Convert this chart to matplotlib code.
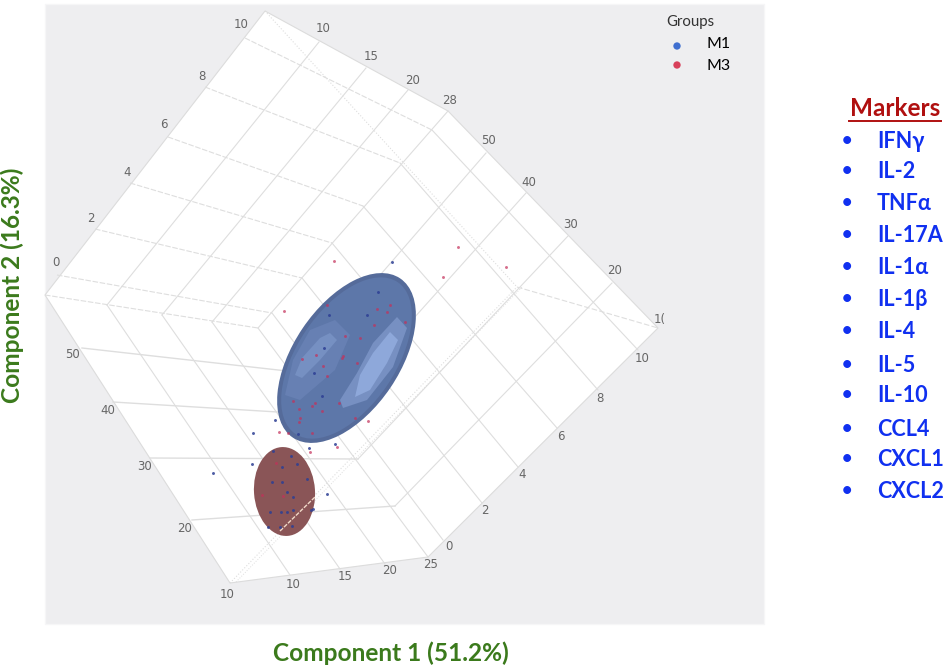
import matplotlib
matplotlib.use('Agg')
import matplotlib.pyplot as plt
from matplotlib.patches import Polygon, Ellipse, Rectangle

m1_x = [392, 329, 367, 378, 324, 314, 322, 275, 253, 252, 309, 335, 291, 297, 282, 282, 272, 307,
        287, 293, 327, 270, 281, 287, 293, 313, 311, 268, 292, 280, 213, 298, 273]
m1_y = [262, 315, 315, 292, 348, 373, 396, 420, 433, 464, 448, 444, 456, 464, 467, 482, 482, 479,
        492, 497, 494, 512, 512, 512, 510, 509, 510, 527, 526, 527, 473, 434, 451]
m3_x = [334, 284, 327, 405, 390, 387, 377, 374, 345, 360, 316, 343, 342, 302, 323, 357, 327, 293,
        299, 312, 322, 315, 339, 300, 299, 279, 288, 312, 355, 368, 337, 310, 276, 262, 283, 458,
        443, 506]
m3_y = [261, 311, 305, 322, 305, 312, 309, 325, 336, 338, 355, 356, 358, 359, 366, 363, 376, 401,
        409, 406, 411, 403, 403, 418, 422, 432, 433, 433, 418, 421, 447, 452, 463, 495, 496, 247,
        277, 267]

markers = ['IFNγ', 'IL-2', 'TNFα', 'IL-17A', 'IL-1α', 'IL-1β', 'IL-4', 'IL-5', 'IL-10', 'CCL4',
           'CXCL1', 'CXCL2']
marker_y = [142, 172, 204, 235, 268, 300, 332, 365, 396, 429, 460, 492]

# cube outline
T, U, R, BR, B, L = (265, 11), (448, 111), (658, 328), (428, 557), (230, 583), (45, 295)
C, D = (258, 328), (517, 287)

# tick positions on the box edges
left_y = [(57, 275), (95, 229), (130, 183), (168, 137), (205, 87), (245, 38)]
fold_y = [(272, 313), (302, 278), (332, 243), (363, 206), (400, 163), (432, 130)]
right_y = [(443, 540), (482, 503), (518, 467), (557, 428), (598, 390), (638, 350)]
top_x = [(319, 42), (366, 68), (408, 90)]
back_x = [(107, 305), (162, 315), (212, 322)]
bottom_x = [(290, 575), (340, 569), (385, 564)]
left_z = [(82, 348), (113, 402), (150, 458), (192, 520)]
fold_z = [(296, 372), (327, 415), (358, 459), (395, 506)]
top_z = [(486, 153), (526, 193), (568, 236), (612, 283)]

tick_labels = [('10', 241, 25), ('8', 202, 76), ('6', 164, 125), ('4', 127, 172), ('2', 91, 218),
               ('0', 56, 263), ('10', 323, 29), ('15', 371, 56), ('20', 413, 80), ('28', 450, 101),
               ('50', 489, 140), ('40', 529, 182), ('30', 571, 225), ('20', 615, 271), ('1(', 660, 319),
               ('10', 642, 358), ('8', 600, 398), ('6', 561, 437), ('4', 522, 475), ('2', 485, 511),
               ('0', 449, 547), ('25', 431, 565), ('50', 72, 355), ('40', 108, 410), ('30', 145, 467),
               ('20', 185, 529), ('10', 227, 594), ('10', 293, 585), ('15', 345, 577), ('20', 390, 571)]

# lighter facets on the blue ellipsoid
facet_mid = [(397, 317), (407, 328), (393, 367), (367, 400), (343, 408), (340, 400), (357, 373), (373, 343)]
facet_bright = [(390, 332), (398, 340), (387, 363), (370, 390), (355, 397), (360, 375), (373, 353)]
facet_left_mid = [(310, 330), (335, 320), (350, 335), (335, 370), (300, 400), (285, 395), (293, 360)]
facet_left = [(320, 338), (330, 333), (337, 340), (320, 360), (302, 378), (295, 375), (302, 358)]

GRID = '#dedede'
GREEN = '#3b7a1c'
FONT = ['Lato', 'DejaVu Sans']

fig = plt.figure(figsize=(9.45, 6.66), dpi=100)
ax = fig.add_axes([0, 0, 1, 1])
ax.set_xlim(0, 945)
ax.set_ylim(666, 0)
ax.axis('off')

# === Panel and box ===
ax.add_patch(Rectangle((45, 4), 719, 620, fc='#eeeef0', ec='#f6f6f7', lw=1, zorder=0))
ax.add_patch(Polygon([T, U, R, BR, B, L], fc='white', ec='#dcdcdc', lw=0.8, zorder=1))


def seg(p, q, **kw):
    style = dict(color=GRID, lw=0.8, zorder=2)
    style.update(kw)
    ax.plot([p[0], q[0]], [p[1], q[1]], **style)


for p, q in zip(left_y, fold_y):
    seg(p, q, ls=(0, (5, 1.5)))
seg(L, C, ls=(0, (5, 1.5)))
for p, q in zip(fold_y, right_y):
    seg(p, q)
for p, q in zip(top_x, back_x):
    seg(p, q)
for p, q in zip(back_x, bottom_x):
    seg(p, q)
for p, q in zip(left_z, fold_z):
    seg(p, q, lw=1)
for p, q in zip(top_z, fold_z):
    seg(p, q)
seg(C, U)
seg(C, BR)
# hidden edges of the cube
seg(T, D, ls=':', lw=0.8)
seg(B, D, ls=':', lw=0.8)
seg((B[0] + 6, B[1] - 1), (D[0] + 6, D[1] - 1), ls=':', lw=0.7)
seg(D, R, ls=(0, (5, 2)), lw=0.8)

for txt, x, y in tick_labels:
    ax.text(x, y, txt, fontsize=8.5, color='#666666', ha='center', va='center', zorder=3)

# === Ellipsoids ===
ax.add_patch(Ellipse((346.5, 358), 192, 106, angle=-56, fc='#556b9a', ec='none', zorder=4))
ax.add_patch(Ellipse((346.5, 358), 183, 98, angle=-56, fc='#5d77a9', ec='none', zorder=4))
ax.add_patch(Polygon(facet_mid, fc='#7790c2', ec='none', zorder=4))
ax.add_patch(Polygon(facet_bright, fc='#8ea8da', ec='none', zorder=4))
ax.add_patch(Polygon(facet_left_mid, fc='#6780b3', ec='none', zorder=4))
ax.add_patch(Polygon(facet_left, fc='#7690c2', ec='none', zorder=4))
ax.add_patch(Ellipse((284.5, 491.5), 61, 89, angle=-4, fc='#8a5557', ec='none', zorder=4))
ax.plot([280, 315], [531, 497], color='#f0d8c8', lw=1, ls=(0, (3, 1)), zorder=5)

# === Points ===
ax.scatter(m1_x, m1_y, s=4.5, color='#2d3f94', alpha=0.85, lw=0, zorder=6)
ax.scatter(m3_x, m3_y, s=4.5, color='#c4305a', alpha=0.7, lw=0, zorder=6)

# === Legend ===
ax.text(666, 22, 'Groups', fontsize=10.8, color='#333333', va='center', family=FONT)
ax.scatter([677, 677], [46, 65], s=28, color=['#3f6fd0', '#d8405a'], lw=0, zorder=6)
ax.text(706, 44, 'M1', fontsize=11.5, color='black', va='center', family=FONT)
ax.text(706, 66, 'M3', fontsize=11.5, color='black', va='center', family=FONT)

# === Axis titles ===
ax.text(391, 653, 'Component 1 (51.2%)', fontsize=17.6, fontweight='bold', color=GREEN,
        ha='center', va='center', family=FONT)
ax.text(12, 285, 'Component 2 (16.3%)', fontsize=17.6, fontweight='bold', color=GREEN, rotation=90,
        ha='center', va='center', family=FONT)

# === Marker list ===
ax.text(895, 109, 'Markers', fontsize=17.5, fontweight='bold', color='#b01010', ha='center',
        va='center', family=FONT)
ax.plot([849, 941], [121, 121], color='#b01010', lw=1.4)
for name, y in zip(markers, marker_y):
    ax.text(847, y - 1, '•', fontsize=13, fontweight='bold', color='#1030f0', ha='center', va='center',
            family=FONT)
    ax.text(877, y, name, fontsize=15.5, fontweight='bold', color='#1030f0', va='center', family=FONT)

fig.savefig('out.png', dpi=100)
